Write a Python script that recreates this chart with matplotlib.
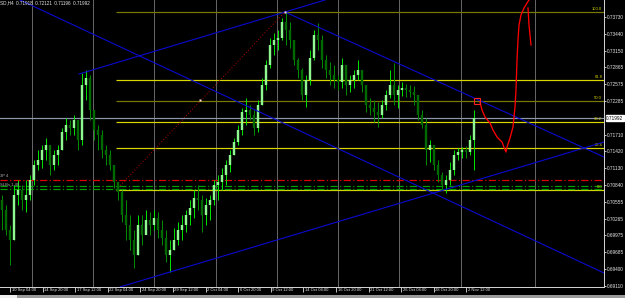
import matplotlib
matplotlib.use('Agg')
import matplotlib.pyplot as plt
import matplotlib.transforms as mtransforms
from matplotlib.patches import Rectangle

W, H, DPI = 625, 298, 100

# ---- candle data (price in 1e-4 units), one candle per 8-hour slot ----
first_open = 7058
highs = [7067, 7050, 7015, 7084, 7093, 7084, 7093, 7101, 7127, 7144,
         7153, 7165, 7153, 7144, 7153, 7182, 7199, 7196, 7205, 7187,
         7277, 7282, 7273, 7213, 7187, 7179, 7153, 7144, 7119, 7089,
         7076, 7058, 7033, 7007, 7033, 7033, 7041, 7038, 7041, 7038,
         7024, 7007, 6990, 7010, 7021, 7033, 7041, 7058, 7076, 7084,
         7067, 7062, 7067, 7093, 7101, 7113, 7127, 7144, 7165, 7187,
         7217, 7234, 7222, 7213, 7230, 7268, 7299, 7337, 7345, 7351,
         7371, 7382, 7364, 7325, 7302, 7285, 7273, 7316, 7351, 7363,
         7342, 7308, 7296, 7290, 7273, 7302, 7282, 7273, 7282, 7299,
         7278, 7239, 7234, 7230, 7227, 7230, 7248, 7282, 7294, 7256,
         7261, 7258, 7256, 7254, 7239, 7213, 7199, 7162, 7153, 7127,
         7107, 7101, 7124, 7144, 7148, 7150, 7151, 7170, 7213]
lows = [7007, 6998, 6947, 6990, 7050, 7041, 7038, 7058, 7084, 7110,
        7113, 7127, 7101, 7110, 7119, 7144, 7162, 7170, 7170, 7144,
        7153, 7230, 7196, 7162, 7144, 7131, 7119, 7110, 7079, 7058,
        7021, 6990, 6972, 6942, 6964, 6981, 7003, 6998, 7007, 6993,
        6981, 6952, 6935, 6972, 6981, 6990, 7003, 7015, 7027, 7041,
        7003, 7015, 7024, 7050, 7058, 7076, 7084, 7107, 7136, 7153,
        7170, 7187, 7196, 7170, 7175, 7222, 7248, 7285, 7308, 7316,
        7333, 7325, 7320, 7290, 7268, 7230, 7218, 7256, 7299, 7316,
        7285, 7268, 7256, 7251, 7248, 7251, 7239, 7244, 7251, 7265,
        7244, 7210, 7205, 7193, 7184, 7199, 7213, 7234, 7222, 7217,
        7237, 7235, 7235, 7222, 7196, 7182, 7119, 7124, 7110, 7089,
        7076, 7070, 7084, 7101, 7127, 7131, 7131, 7136, 7110]
closes = [7041, 7007, 6990, 7067, 7076, 7058, 7067, 7093, 7119, 7127,
          7144, 7153, 7119, 7136, 7144, 7175, 7187, 7182, 7196, 7162,
          7256, 7268, 7213, 7179, 7170, 7144, 7136, 7119, 7089, 7072,
          7033, 7015, 6990, 6964, 7015, 6998, 7024, 7015, 7027, 7007,
          6993, 6964, 6972, 6990, 7007, 7015, 7033, 7045, 7062, 7058,
          7033, 7050, 7058, 7084, 7089, 7101, 7119, 7136, 7158, 7179,
          7210, 7213, 7205, 7182, 7222, 7256, 7290, 7325, 7333, 7337,
          7364, 7351, 7333, 7299, 7282, 7239, 7265, 7302, 7342, 7333,
          7299, 7282, 7273, 7265, 7261, 7290, 7256, 7265, 7273, 7282,
          7256, 7222, 7217, 7210, 7205, 7222, 7239, 7256, 7239, 7248,
          7251, 7248, 7244, 7239, 7205, 7187, 7144, 7153, 7119, 7101,
          7084, 7093, 7110, 7136, 7141, 7144, 7141, 7162, 7199]

date_labels = ["10 Sep 04:00", "14 Sep 20:00", "17 Sep 12:00", "22 Sep 04:00",
               "24 Sep 20:00", "29 Sep 12:00", "2 Oct 04:00", "6 Oct 20:00",
               "9 Oct 12:00", "14 Oct 04:00", "16 Oct 20:00", "21 Oct 12:00",
               "26 Oct 04:00", "28 Oct 20:00", "2 Nov 12:00"]
price_ticks = [0.73730, 0.73440, 0.73150, 0.72865, 0.72575, 0.72285,
               0.71710, 0.71420, 0.71130, 0.70840, 0.70555, 0.70265, 0.69975,
               0.69685, 0.69400, 0.69110]
week_separators = [7.5, 22.75, 38, 53.5, 68.75, 84, 99.25, 114.75, 133.25]

fib_start, fib_end_slot = 28.5, 70.75
fib_low, fib_high = 0.70756, 0.73821
fib_levels = [0.0, 23.6, 38.2, 50.0, 61.8, 100.0]
fib_names = ["0.0", "23.6", "38.2", "50.0", "61.8", "100.0"]
current_price = 0.71992
red_level = 0.70928
green_levels = [0.70825, 0.70773]

trend_lines = {
    "A": ([4.5, 150.5], [0.74022, 0.69330]),
    "B": ([19.25, 80.75], [0.72750, 0.74022]),
    "C": ([70.75, 150.5], [0.73816, 0.71323]),
    "D": ([29.5, 150.5], [0.69089, 0.71581]),
}
forecast_x = [119.5, 120, 120.75, 122, 122.75, 123.75, 125, 125.75, 126, 126.25,
              127, 127.75, 128.25, 128.5, 128.75, 129, 129.25, 129.75, 130.5,
              131.25, 131.75]
forecast_y = [0.72269, 0.72131, 0.72011, 0.71908, 0.71788, 0.71667, 0.71581,
              0.71444, 0.71409, 0.71495, 0.71650, 0.71839, 0.72183, 0.72475,
              0.72991, 0.73334, 0.73592, 0.73764, 0.73884, 0.73970, 0.74022]
forecast2_x = [131.5, 131.75, 132.25]
forecast2_y = [0.73884, 0.73592, 0.73249]
box_x, box_y = 118.75, 0.72286

# ---- figure ----
fig = plt.figure(figsize=(W / DPI, H / DPI), dpi=DPI, facecolor='black')
ax = fig.add_axes([0, (H - 287) / H, 604 / W, 287 / H], facecolor='black')
px = 72.0 / DPI  # one pixel in points
FONT = ['Liberation Sans', 'DejaVu Sans']

n = len(closes)
xs = list(range(n))
opens = [first_open] + closes[:-1]
for i in range(n):
    o, c = opens[i] / 1e4, closes[i] / 1e4
    hi, lo = highs[i] / 1e4, lows[i] / 1e4
    up = c >= o
    ax.vlines(xs[i], lo, hi, color='#00e000' if up else '#008a00', lw=1 * px, zorder=3)
    b0, b1 = min(o, c), max(o, c)
    if b1 - b0 < 0.00003:
        b1 = b0 + 0.00003
    ax.vlines(xs[i], b0, b1, color='#90f890' if up else '#006a00', lw=2.4 * px, zorder=3)

# week separators
for s in week_separators:
    ax.axvline(s, color='#c8c8c8', lw=1 * px, ls=(0, (1, 1)), zorder=1)

# fibonacci
for lvl, name in zip(fib_levels, fib_names):
    p = fib_low + lvl / 100.0 * (fib_high - fib_low)
    col = '#7a7a00' if lvl in (50.0, 100.0) else '#d8d800'
    ax.hlines(p, fib_start, 150.5, color=col, lw=1.2 * px, zorder=2)
    ax.text(0.997, p + 0.00012, name, transform=ax.get_yaxis_transform(),
            ha='right', va='bottom', color='#d8d800', fontsize=3.0, family=FONT)
ax.plot([fib_start, fib_end_slot], [fib_low, fib_high], color='#b00000',
        lw=1 * px, ls=(0, (1, 2)), zorder=2)
ax.plot([49.5, fib_end_slot], [0.72303, fib_high], ls='none', marker='s',
        ms=1.6, mfc='#ffe0e0', mec='none', zorder=5)

# horizontal order lines
ax.axhline(red_level, color='#e00000', lw=1.2 * px, ls=(0, (6, 2, 1, 2)), zorder=2)
for g in green_levels:
    ax.axhline(g, color='#00a000', lw=1.2 * px, ls=(0, (6, 2, 1, 2)), zorder=2)
ax.axhline(current_price, color='#8a96aa', lw=1.2 * px, zorder=2)

# trend lines
for key, (tx, ty) in trend_lines.items():
    ax.plot(tx, ty, color='#0a0ad2', lw=1.1 * px, zorder=4)

# hand-drawn forecast
ax.plot(forecast_x, forecast_y, color='#ff0000', lw=1.3 * px, zorder=6)
ax.plot(forecast2_x, forecast2_y, color='#ff0000', lw=1.3 * px, zorder=6)
ax.plot([box_x], [box_y], marker='s', ms=4.5, mfc='none', mec='#ff2020', mew=0.8, zorder=6)

# axes
ax.set_xlim(-0.5, 150.5)
ax.set_ylim(0.69089, 0.74022)
for sp in ['left', 'top']:
    ax.spines[sp].set_visible(False)
for sp in ['right', 'bottom']:
    ax.spines[sp].set_color('#d0d0d0')
    ax.spines[sp].set_linewidth(1 * px)

ax.yaxis.tick_right()
ax.set_yticks(price_ticks)
ax.set_yticklabels(['%.5f' % p for p in price_ticks])
ax.tick_params(axis='y', colors='#e0e0e0', length=1.5, width=0.6, pad=0.5,
               labelsize=3.4, labelcolor='#e8e8e8')
date_pos = [2 + 8.15 * k for k in range(len(date_labels))]
ax.set_xticks(date_pos)
ax.set_xticklabels(date_labels)
ax.tick_params(axis='x', colors='#e0e0e0', length=3.5, width=0.6, pad=-2.6,
               labelsize=3.0, labelcolor='#e8e8e8')
offset = mtransforms.ScaledTranslation(1.5 / DPI, 0, fig.dpi_scale_trans)
for lab in ax.get_xticklabels():
    lab.set_horizontalalignment('left')
    lab.set_family(FONT)
    lab.set_transform(lab.get_transform() + offset)
for lab in ax.get_yticklabels():
    lab.set_family(FONT)

# current price label
ax.text(1.0035, current_price, '%.5f' % current_price, transform=ax.get_yaxis_transform(),
        ha='left', va='center', fontsize=3.4, color='black', family=FONT,
        bbox=dict(boxstyle='square,pad=0.12', fc='white', ec='white'), clip_on=False, zorder=10)

# top-left info
fig.text(0.5 / W, 1 - 5.0 / H, 'SD,H4  0.71918  0.72121  0.71196  0.71992', color='#e8e8e8',
         fontsize=3.3, family=FONT, ha='left', va='bottom')
# object labels on the left
ax.text(0.5 / 604, 0.70960, '3P 4', transform=ax.get_yaxis_transform(),
        color='#b0b0b0', fontsize=3.0, family=FONT, ha='left', va='bottom')
ax.text(0.5 / 604, 0.70800, 'SLBs 1.40', transform=ax.get_yaxis_transform(),
        color='#b0b0b0', fontsize=3.0, family=FONT, ha='left', va='bottom')

# bottom status strip
fig.patches.append(Rectangle((0, 0), 1, 3 / H, transform=fig.transFigure,
                             facecolor='#9a9a9a', edgecolor='none'))
fig.patches.append(Rectangle((0, 0), 17 / W, 3 / H, transform=fig.transFigure,
                             facecolor='#f0f0f0', edgecolor='none'))

fig.savefig('out.png', dpi=DPI, facecolor='black')
